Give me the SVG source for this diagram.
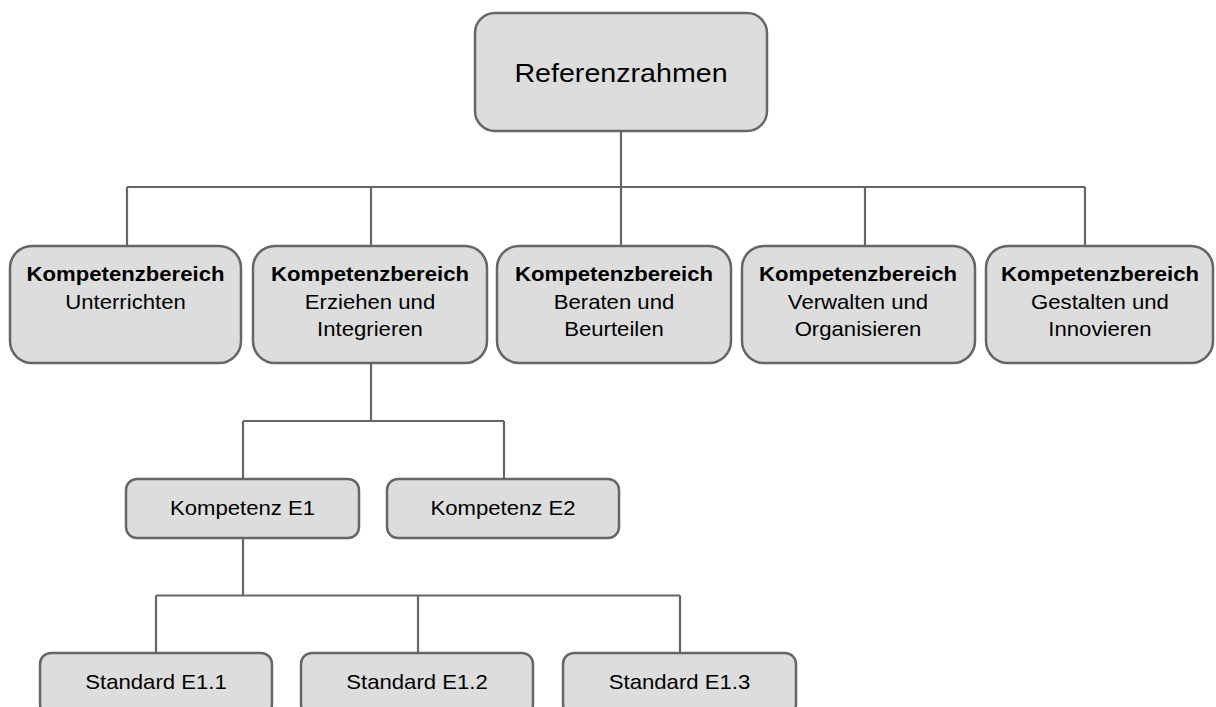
<svg xmlns="http://www.w3.org/2000/svg" width="1216" height="707" viewBox="0 0 1216 707">
<style>
.box{fill:#dddddd;stroke:#666666;stroke-width:2.5}
.conn{fill:none;stroke:#666666;stroke-width:2.2}
text{font-family:"Liberation Sans",Arial,sans-serif;fill:#000;text-anchor:middle;font-size:20.5px}
.b{font-weight:bold}
.root{font-size:26.5px}
</style>
<rect width="1216" height="707" fill="#ffffff"/>
<g id="connectors">
<path class="conn" d="M621,131 V187 M127,187 H1085 M127,187 V246 M371,187 V246 M621,187 V246 M865,187 V246 M1085,187 V246"/>
<path class="conn" d="M371,363 V421 M243,421 H504 M243,421 V479 M504,421 V479"/>
<path class="conn" d="M243,538 V595.5 M156,595.5 H680 M156,595.5 V653 M418,595.5 V653 M680,595.5 V653"/>
</g>
<g id="root">
<rect class="box" x="475" y="13" width="292" height="118" rx="20"/>
<text class="root" transform="translate(621,82) scale(1.08,1)">Referenzrahmen</text>
</g>
<g id="kb-unterrichten">
<rect class="box" x="10" y="246" width="231" height="117" rx="22"/>
<text class="b" transform="translate(125.5,281) scale(1.08,1)">Kompetenzbereich</text>
<text transform="translate(125.5,309) scale(1.08,1)">Unterrichten</text>
</g>
<g id="kb-erziehen">
<rect class="box" x="253" y="246" width="234" height="117" rx="22"/>
<text class="b" transform="translate(370,281) scale(1.08,1)">Kompetenzbereich</text>
<text transform="translate(370,309) scale(1.08,1)">Erziehen und</text>
<text transform="translate(370,336) scale(1.08,1)">Integrieren</text>
</g>
<g id="kb-beraten">
<rect class="box" x="497" y="246" width="234" height="117" rx="22"/>
<text class="b" transform="translate(614,281) scale(1.08,1)">Kompetenzbereich</text>
<text transform="translate(614,309) scale(1.08,1)">Beraten und</text>
<text transform="translate(614,336) scale(1.08,1)">Beurteilen</text>
</g>
<g id="kb-verwalten">
<rect class="box" x="742" y="246" width="233" height="117" rx="22"/>
<text class="b" transform="translate(858,281) scale(1.08,1)">Kompetenzbereich</text>
<text transform="translate(858,309) scale(1.08,1)">Verwalten und</text>
<text transform="translate(858,336) scale(1.08,1)">Organisieren</text>
</g>
<g id="kb-gestalten">
<rect class="box" x="986" y="246" width="227" height="117" rx="22"/>
<text class="b" transform="translate(1100,281) scale(1.08,1)">Kompetenzbereich</text>
<text transform="translate(1100,309) scale(1.08,1)">Gestalten und</text>
<text transform="translate(1100,336) scale(1.08,1)">Innovieren</text>
</g>
<g id="kompetenz-e1">
<rect class="box" x="126" y="479" width="233" height="59" rx="11"/>
<text transform="translate(242.5,515) scale(1.08,1)">Kompetenz E1</text>
</g>
<g id="kompetenz-e2">
<rect class="box" x="387" y="479" width="232" height="59" rx="11"/>
<text transform="translate(503,515) scale(1.08,1)">Kompetenz E2</text>
</g>
<g id="standard-e1-1">
<rect class="box" x="40" y="653" width="232" height="62" rx="11"/>
<text transform="translate(156,689) scale(1.08,1)">Standard E1.1</text>
</g>
<g id="standard-e1-2">
<rect class="box" x="301" y="653" width="232" height="62" rx="11"/>
<text transform="translate(417,689) scale(1.08,1)">Standard E1.2</text>
</g>
<g id="standard-e1-3">
<rect class="box" x="563" y="653" width="233" height="62" rx="11"/>
<text transform="translate(679.5,689) scale(1.08,1)">Standard E1.3</text>
</g>
</svg>
